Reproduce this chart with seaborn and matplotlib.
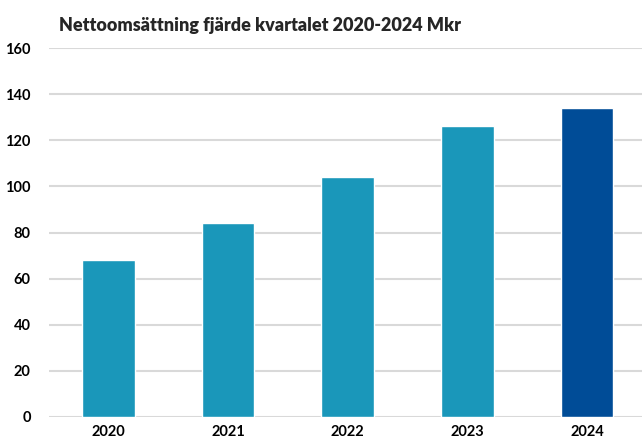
import matplotlib
matplotlib.use("Agg")
import matplotlib.pyplot as plt
import seaborn as sns
import pandas as pd

# Data
years = ["2020", "2021", "2022", "2023", "2024"]
sales = [68, 84, 104, 126, 134]
bar_colors = ["#1A97BA", "#1A97BA", "#1A97BA", "#1A97BA", "#004C97"]
y_ticks = [0, 20, 40, 60, 80, 100, 120, 140, 160]

sns.set_style("white")
plt.rcParams['font.family'] = ['Lato', 'DejaVu Sans']

df = pd.DataFrame({"year": years, "sales": sales})

W, H = 642, 445
fig = plt.figure(figsize=(W / 100, H / 100), dpi=100)
ax = fig.add_axes([48.7 / W, 28 / H, (W - 48.7) / W, 369 / H])

sns.barplot(data=df, x="year", y="sales", hue="year", palette=bar_colors,
            width=0.44, legend=False, ax=ax, saturation=1, zorder=3)

ax.set_ylim(0, 160)
ax.set_xlim(-0.5, 4.46)
ax.set_yticks(y_ticks)
ax.yaxis.grid(True, color="#D9D9D9", linewidth=1.5, zorder=0)
ax.set_axisbelow(True)
for s in ax.spines.values():
    s.set_visible(False)
ax.tick_params(axis="both", length=0, labelsize=10.5, colors="black")
ax.tick_params(axis="y", pad=13)
ax.tick_params(axis="x", pad=6)
for lab in ax.get_xticklabels() + ax.get_yticklabels():
    lab.set_fontweight("bold")
ax.set_xlabel("")
ax.set_ylabel("")

fig.text(260 / W, 1 - 26 / H, "Nettoomsättning fjärde kvartalet 2020-2024 Mkr",
         ha="center", va="center", fontsize=13, fontweight="heavy")

fig.savefig("out.png", dpi=100)
